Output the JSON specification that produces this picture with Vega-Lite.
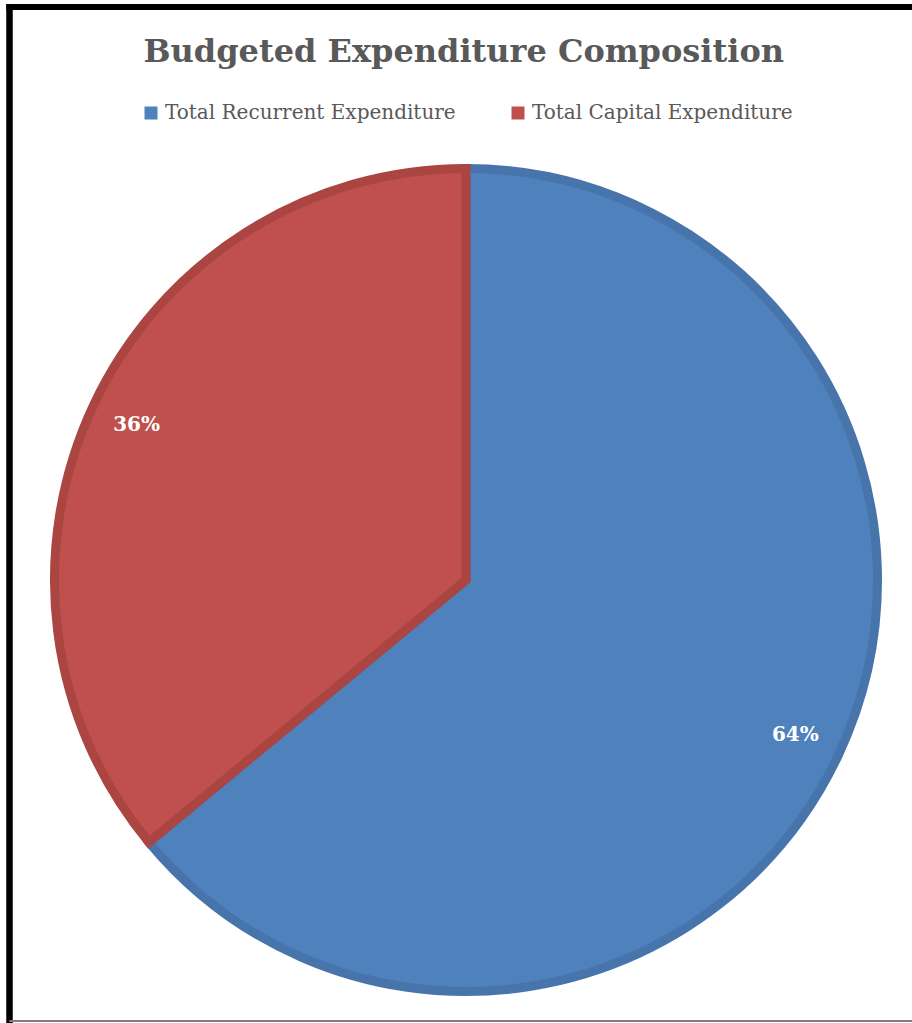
{
  "$schema": "https://vega.github.io/schema/vega-lite/v6.json",
  "autosize": "none",
  "width": 902.5,
  "height": 1014,
  "padding": {"left": 9.5, "top": 7, "right": 0, "bottom": 2},
  "background": "white",
  "config": {"view": {"stroke": null}},
  "title": {
    "text": "Budgeted Expenditure Composition",
    "font": "DejaVu Serif",
    "fontSize": 32,
    "fontWeight": "bold",
    "color": "#595959",
    "anchor": "middle",
    "baseline": "alphabetic",
    "offset": 0,
    "dy": 91,
    "dx": 3
  },
  "data": {
    "values": [
      {"category": "Total Recurrent Expenditure", "share": 64, "label": "64%"},
      {"category": "Total Capital Expenditure", "share": 36, "label": "36%"}
    ]
  },
  "layer": [
    {
      "mark": {"type": "arc", "radius": 411.5, "strokeWidth": 9, "strokeJoin": "miter"},
      "encoding": {
        "theta": {"field": "share", "type": "quantitative", "stack": true},
        "order": {"field": "share", "sort": "descending"},
        "x": {"datum": 0.5058, "type": "quantitative", "scale": {"domain": [0, 1], "nice": false, "zero": false}, "axis": null},
        "y": {"datum": 0.4349, "type": "quantitative", "scale": {"domain": [0, 1], "nice": false, "zero": false}, "axis": null},
        "color": {
          "field": "category",
          "type": "nominal",
          "scale": {"domain": ["Total Recurrent Expenditure", "Total Capital Expenditure"], "range": ["#4F81BD", "#C0504D"]},
          "legend": {
            "title": null,
            "orient": "none",
            "direction": "horizontal",
            "legendX": 131.5,
            "legendY": 96,
            "padding": 0,
            "symbolType": "square",
            "symbolSize": 169,
            "symbolStrokeWidth": 0,
            "labelFont": "DejaVu Serif",
            "labelFontSize": 20,
            "labelColor": "#595959",
            "labelOffset": 4,
            "labelLimit": 500,
            "columnPadding": 52
          }
        },
        "stroke": {
          "field": "category",
          "type": "nominal",
          "scale": {"domain": ["Total Recurrent Expenditure", "Total Capital Expenditure"], "range": ["#4774AB", "#AA4542"]},
          "legend": null
        }
      }
    },
    {
      "mark": {"type": "text", "radius": 364, "font": "DejaVu Serif", "fontSize": 20, "fontWeight": "bold", "color": "white", "align": "center", "baseline": "middle"},
      "encoding": {
        "theta": {"field": "share", "type": "quantitative", "stack": true},
        "order": {"field": "share", "sort": "descending"},
        "x": {"datum": 0.5058, "type": "quantitative"},
        "y": {"datum": 0.4349, "type": "quantitative"},
        "text": {"field": "label", "type": "nominal"}
      }
    },
    {
      "mark": {"type": "rule", "color": "black", "strokeWidth": 6, "strokeCap": "square"},
      "encoding": {"y": {"datum": 1, "type": "quantitative"}}
    },
    {
      "mark": {"type": "rule", "color": "black", "strokeWidth": 6, "strokeCap": "square"},
      "encoding": {"x": {"datum": 0, "type": "quantitative"}}
    },
    {
      "mark": {"type": "rule", "color": "#7f7f7f", "strokeWidth": 2},
      "encoding": {"y": {"datum": 0, "type": "quantitative"}}
    }
  ]
}
